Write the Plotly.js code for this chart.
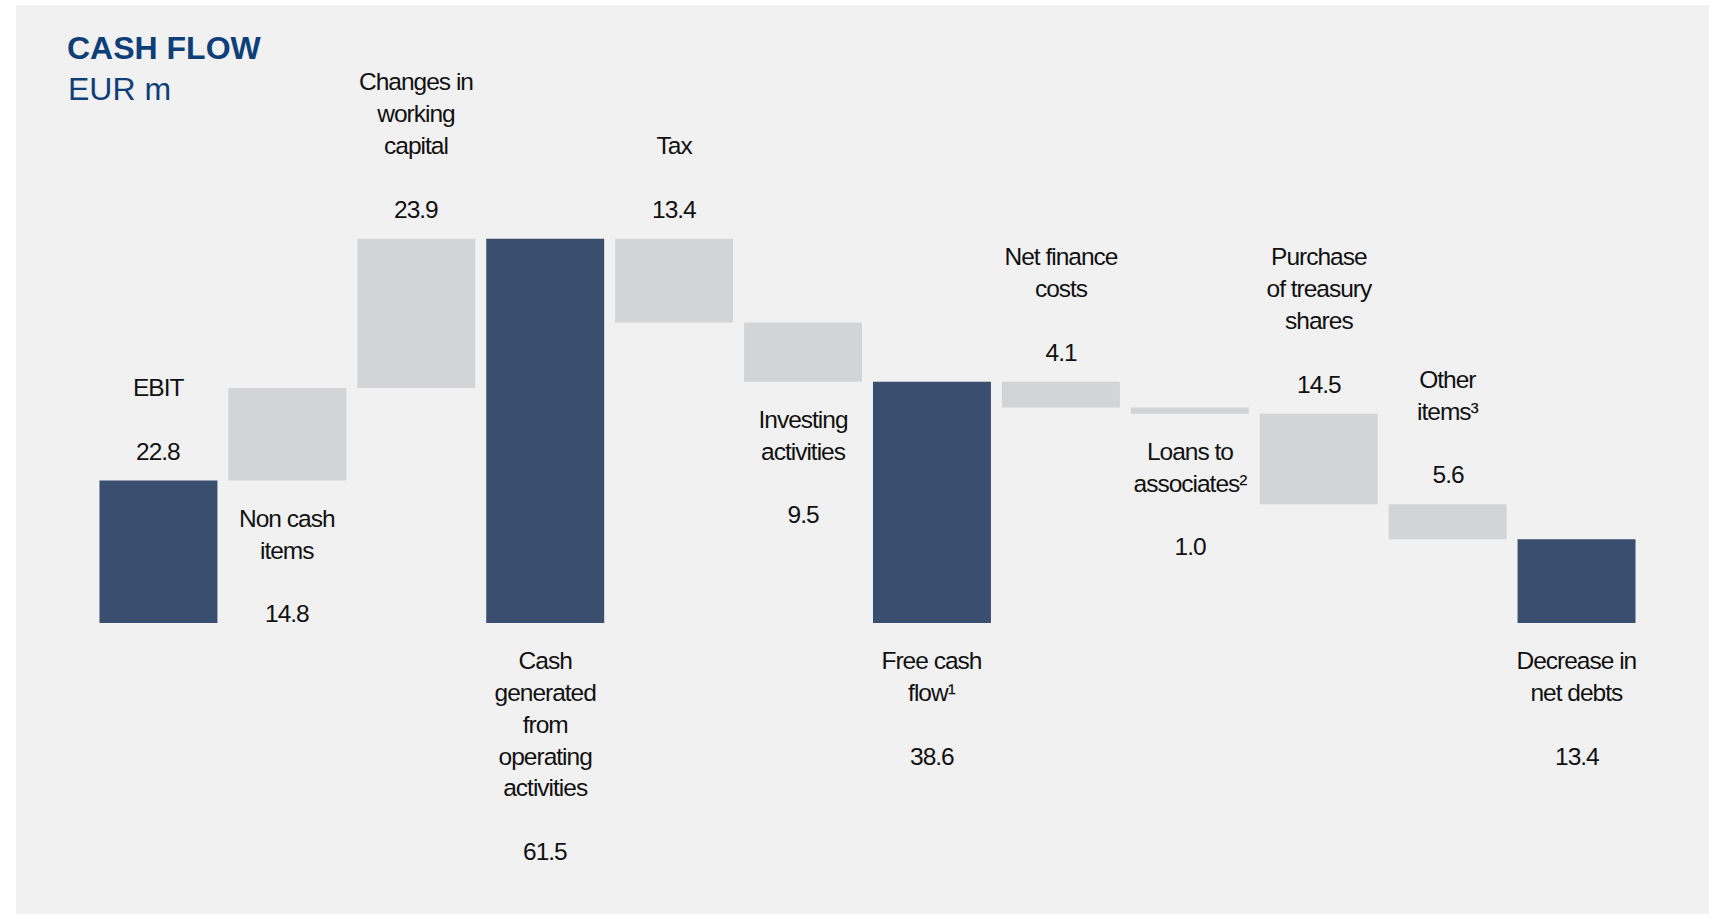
<!DOCTYPE html>
<html>
<head>
<meta charset="utf-8">
<script src="https://cdn.plot.ly/plotly-3.0.1.min.js"></script>
<style>
  html, body { margin: 0; padding: 0; background: #ffffff; }
  #chart { position: absolute; left: 16px; top: 5px; width: 1693px; height: 909px; }
  #chart .annotation-text { letter-spacing: -1px; }
  #chart .annotation.subtitle-anno .annotation-text { letter-spacing: 0; }
</style>
</head>
<body>
<div id="chart"></div>
<script>
// ---- Data ----
const categories = [
  'EBIT', 'Non cash items', 'Changes in working capital',
  'Cash generated from operating activities', 'Tax', 'Investing activities',
  'Free cash flow', 'Net finance costs', 'Loans to associates',
  'Purchase of treasury shares', 'Other items', 'Decrease in net debts'
];
const measures = [
  'absolute', 'relative', 'relative', 'total', 'relative', 'relative',
  'total', 'relative', 'relative', 'relative', 'relative', 'total'
];
const changes = [22.8, 14.8, 23.9, null, -13.4, -9.5, null, -4.1, -1.0, -14.5, -5.6, null];
const valueLabels = ['22.8', '14.8', '23.9', '61.5', '13.4', '9.5', '38.6', '4.1', '1.0', '14.5', '5.6', '13.4'];
const nameLabels = [
  'EBIT', 'Non cash<br>items', 'Changes in<br>working<br>capital',
  'Cash<br>generated<br>from<br>operating<br>activities', 'Tax', 'Investing<br>activities',
  'Free cash<br>flow\u00B9', 'Net finance<br>costs', 'Loans to<br>associates\u00B2',
  'Purchase<br>of treasury<br>shares', 'Other<br>items\u00B3', 'Decrease in<br>net debts'
];
// label placement relative to each bar
const labelSide = ['above', 'below', 'above', 'below', 'above', 'below',
                   'below', 'above', 'below', 'above', 'above', 'below'];

// ---- Styles ----
const totalColor = '#3a4e6f';
const stepColor = '#d3d4d6';
const panelColor = '#f1f1f1';
const titleColor = '#0f3f78';
const labelSize = 24.5;
const lineStep = labelSize * 1.3;
const labelFont = { family: '"Liberation Sans Narrow", "Arial Narrow", "Liberation Sans", Arial, sans-serif', size: labelSize, color: '#111111' };

// compute bar edges from data (running totals)
let running = 0;
const annotations = [];
categories.forEach((cat, i) => {
  let lo, hi;
  if (measures[i] === 'absolute') { lo = 0; hi = changes[i]; running = changes[i]; }
  else if (measures[i] === 'total') { lo = 0; hi = running; }
  else { const s = running; running += changes[i]; lo = Math.min(s, running); hi = Math.max(s, running); }
  const above = labelSide[i] === 'above';
  const nLines = nameLabels[i].split('<br>').length;
  const base = { x: cat, y: above ? hi : lo, xref: 'x', yref: 'y', showarrow: false,
                 align: 'center', xanchor: 'center', font: labelFont };
  if (above) {
    annotations.push(Object.assign({}, base, { text: valueLabels[i], yanchor: 'bottom', yshift: 14 }));
    annotations.push(Object.assign({}, base, { text: nameLabels[i], yanchor: 'bottom', yshift: 14 + 2 * lineStep }));
  } else {
    annotations.push(Object.assign({}, base, { text: nameLabels[i], yanchor: 'top', yshift: -22 }));
    annotations.push(Object.assign({}, base, { text: valueLabels[i], yanchor: 'top', yshift: -22 - (nLines + 1) * lineStep }));
  }
});

const subtitleIndex = annotations.length;
annotations.push({
  text: 'EUR m', xref: 'paper', yref: 'paper', x: -0.0184, y: 1 - 84 / 909,
  xanchor: 'left', yanchor: 'middle', showarrow: false,
  font: { family: '"Liberation Sans", Arial, sans-serif', size: 32, color: titleColor }
});

const trace = {
  type: 'waterfall',
  x: categories,
  y: changes,
  measure: measures,
  textinfo: 'none',
  hoverinfo: 'none',
  connector: { visible: false },
  increasing: { marker: { color: stepColor } },
  decreasing: { marker: { color: stepColor } },
  totals: { marker: { color: totalColor } }
};

const layout = {
  width: 1693, height: 909,
  margin: { l: 77.5, r: 67.5, t: 0, b: 0 },
  paper_bgcolor: panelColor,
  plot_bgcolor: panelColor,
  showlegend: false,
  waterfallgap: 0.085,
  title: {
    text: '<b>CASH FLOW</b>',
    x: 51 / 1693, xref: 'container', xanchor: 'left',
    y: 1 - 43 / 909, yref: 'container', yanchor: 'middle',
    font: { family: '"Liberation Sans", Arial, sans-serif', size: 32, color: titleColor }
  },
  xaxis: { visible: false, range: [-0.5, 11.5], type: 'category', fixedrange: true },
  yaxis: { visible: false, range: [-46.56, 98.88], zeroline: false, fixedrange: true },
  annotations: annotations
};

Plotly.newPlot('chart', [trace], layout, { displayModeBar: false, staticPlot: true }).then(() => {
  const g = document.querySelector('#chart .annotation[data-index="' + subtitleIndex + '"]');
  if (g) g.classList.add('subtitle-anno');
});
</script>
</body>
</html>
